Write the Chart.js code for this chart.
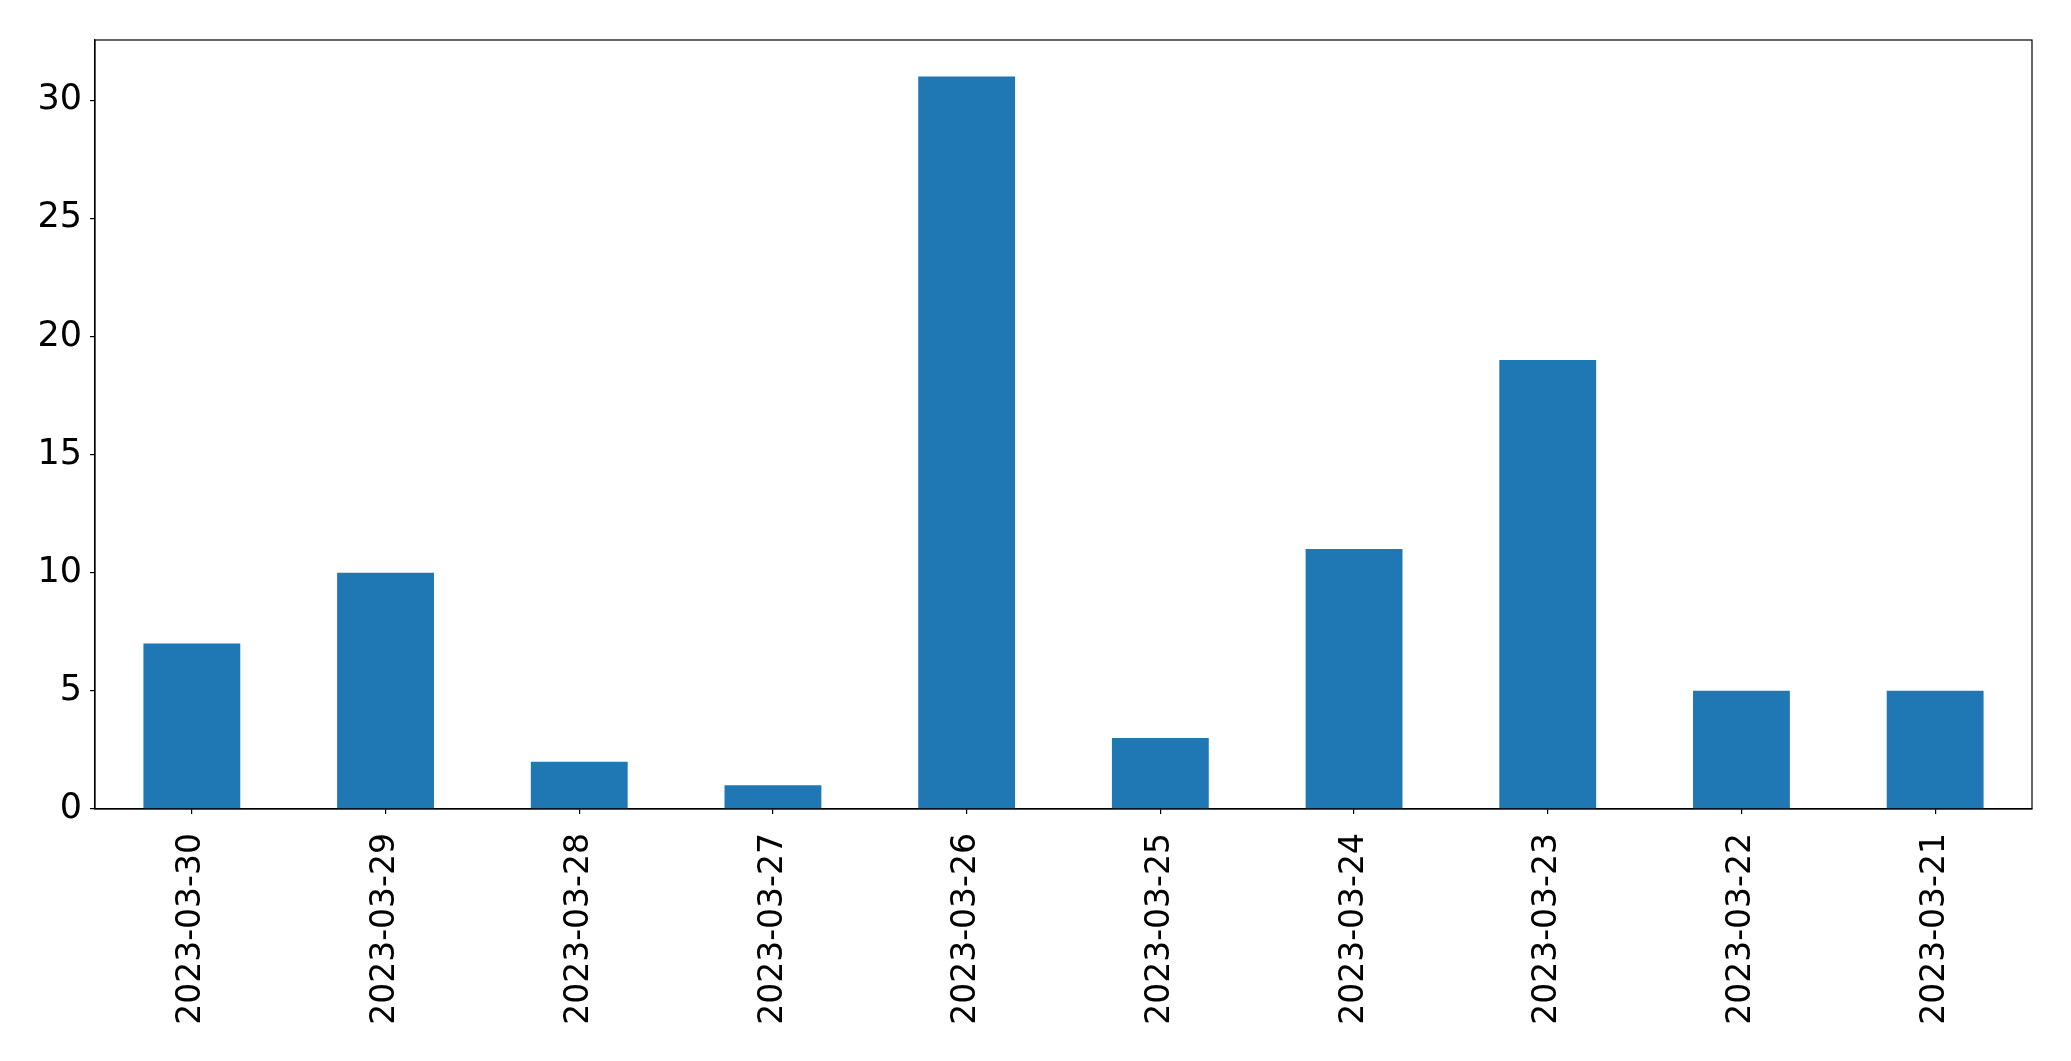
<!DOCTYPE html>
<html>
<head>
<meta charset="utf-8">
<script src="https://cdn.jsdelivr.net/npm/chart.js@4.4.0/dist/chart.umd.min.js"></script>
<style>
  html, body { margin: 0; padding: 0; background: #fff; }
  #wrap { width: 2071px; height: 1061px; }
</style>
</head>
<body>
<div id="wrap"><canvas id="chart" width="2071" height="1061"></canvas></div>
<script>
// dates in the order they appear on the x axis
const dates = ['2023-03-30', '2023-03-29', '2023-03-28', '2023-03-27', '2023-03-26',
               '2023-03-25', '2023-03-24', '2023-03-23', '2023-03-22', '2023-03-21'];
const counts = [7, 10, 2, 1, 31, 3, 11, 19, 5, 5];
const yTicks = [0, 5, 10, 15, 20, 25, 30];

const fontFamily = '"DejaVu Sans", sans-serif';

// draws the top and right spines so the plot has a full box round it
const frameBox = {
    id: 'frameBox',
    afterDraw(chart) {
        const { ctx, chartArea } = chart;
        ctx.save();
        ctx.strokeStyle = '#000';
        ctx.lineWidth = 1.2;
        ctx.strokeRect(chartArea.left, chartArea.top,
                       chartArea.right - chartArea.left, chartArea.bottom - chartArea.top);
        ctx.restore();
    }
};

const ctx = document.getElementById('chart').getContext('2d');
new Chart(ctx, {
    type: 'bar',
    data: {
        labels: dates,
        datasets: [{
            data: counts,
            backgroundColor: '#1f77b4',
            borderWidth: 0,
            barPercentage: 0.5,
            categoryPercentage: 1.0
        }]
    },
    options: {
        responsive: false,
        animation: false,
        layout: { padding: { top: 40, right: 39, left: 0, bottom: 0 } },
        plugins: {
            legend: { display: false },
            tooltip: { enabled: false }
        },
        scales: {
            x: {
                grid: { offset: false, drawOnChartArea: false, drawTicks: true, tickLength: 5, color: '#000', lineWidth: 1.2 },
                border: { display: true, color: '#000', width: 1.2 },
                ticks: {
                    color: '#000',
                    font: { family: fontFamily, size: 33 },
                    minRotation: 90,
                    maxRotation: 90,
                    padding: 19,
                    autoSkip: false
                },
                afterFit(scale) { scale.height = 252; }
            },
            y: {
                min: 0,
                max: 32.55,
                afterBuildTicks(scale) { scale.ticks = yTicks.map(v => ({ value: v })); },
                grid: { drawOnChartArea: false, drawTicks: true, tickLength: 5, color: '#000', lineWidth: 1.2 },
                border: { display: true, color: '#000', width: 1.2 },
                ticks: {
                    color: '#000',
                    font: { family: fontFamily, size: 35 },
                    padding: 8
                },
                afterFit(scale) { scale.width = 95; }
            }
        }
    },
    plugins: [frameBox]
});
</script>
</body>
</html>
